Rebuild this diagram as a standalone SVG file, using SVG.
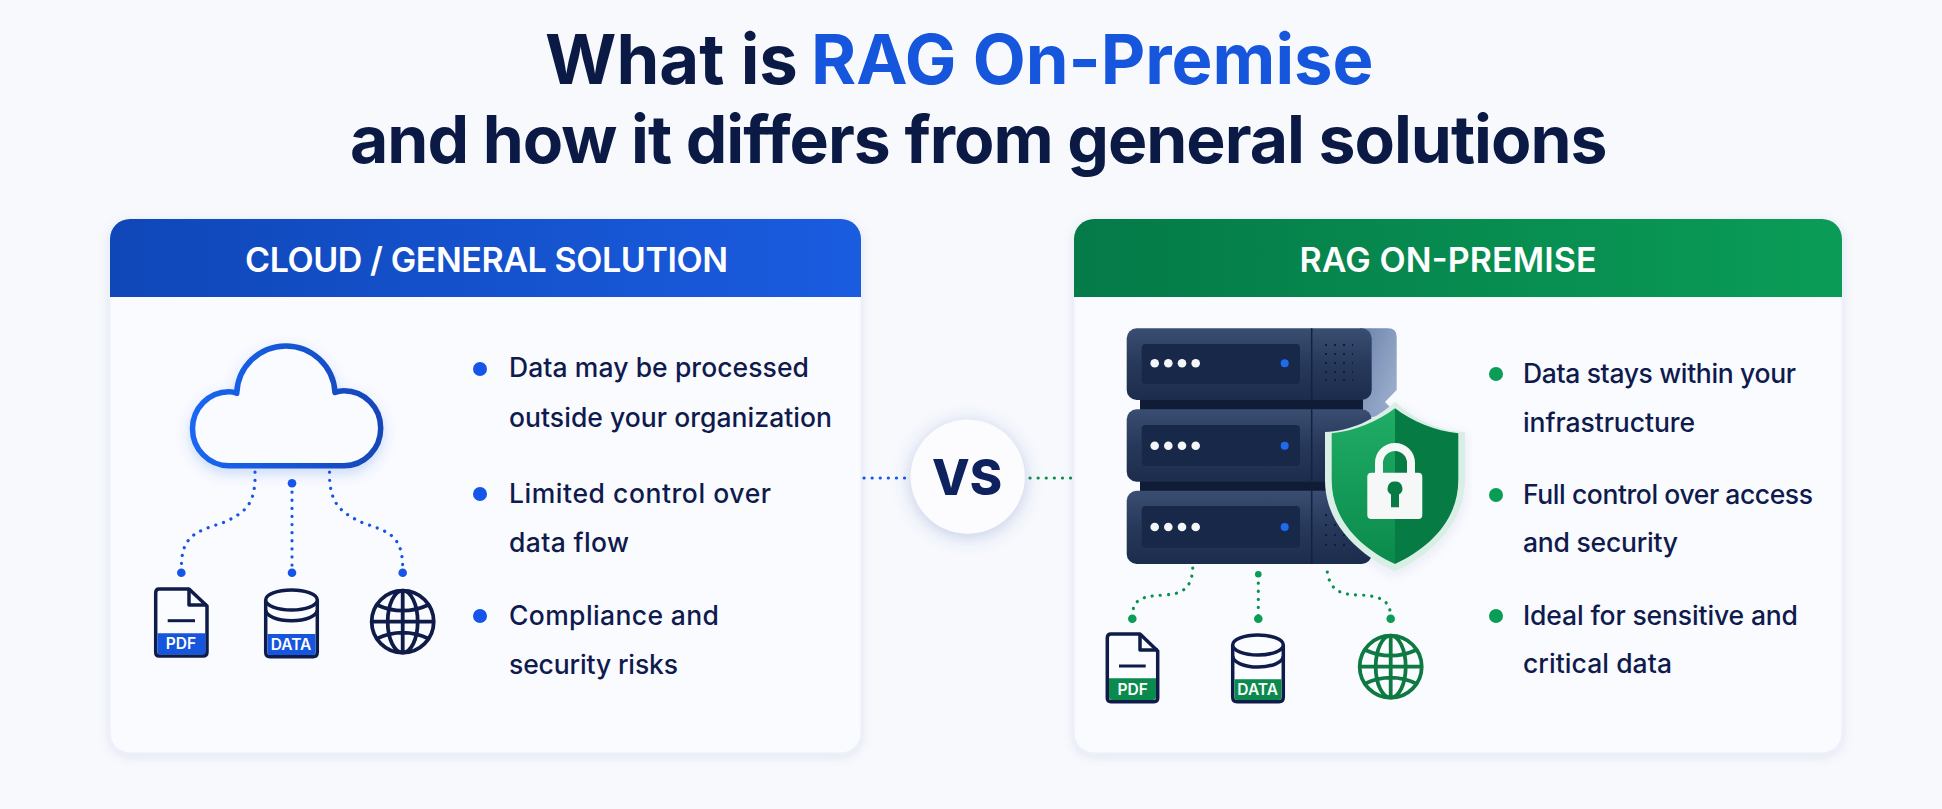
<svg xmlns="http://www.w3.org/2000/svg" width="1942" height="809" viewBox="0 0 1942 809">
<style>
text{font-family:"Inter","Liberation Sans",sans-serif}
.title{font-weight:700;fill:#0b1a45}
.hd{font-size:34px;font-weight:600;fill:#fff;text-anchor:middle}
.b{font-size:26.500px;font-weight:500;fill:#0f1a4d}
.card{fill:#fafbff;stroke:#e9eef8;stroke-width:1;filter:url(#sh)}
.blue{fill:#1556e8}.green{fill:#0a9d55}
.cb{fill:none;stroke:#1556e8;stroke-width:3.200;stroke-linecap:round;stroke-dasharray:.1 8}
.cg{fill:none;stroke:#0a8f4d;stroke-width:3.200;stroke-linecap:round;stroke-dasharray:.1 8}
.ol{fill:#fbfcff;stroke:#0f1c4a;stroke-width:3.500;stroke-linejoin:round}
.lb{font-size:15.500px;font-weight:600;fill:#fff;text-anchor:middle}
.gl{fill:none;stroke-width:3.800}
.unit{fill:url(#srv)}.scr{fill:#182848}.wd{fill:#f5f6f8}.led{fill:#1f6bf0}
</style>
<defs>
<filter id="sh" x="-5%" y="-5%" width="110%" height="112%"><feDropShadow dx="0" dy="3" stdDeviation="6" flood-color="#1c3a80" flood-opacity=".09"/></filter>
<filter id="cs" x="-20%" y="-20%" width="140%" height="150%"><feDropShadow dx="0" dy="5" stdDeviation="7" flood-color="#1550d0" flood-opacity=".2"/></filter>
<filter id="vs" x="-30%" y="-30%" width="160%" height="160%"><feDropShadow dx="0" dy="3" stdDeviation="9" flood-color="#4a62b0" flood-opacity=".3"/></filter>
<linearGradient id="gb" x1="0" x2="1"><stop offset="0" stop-color="#0f47b8"/><stop offset="1" stop-color="#1a5ce0"/></linearGradient>
<linearGradient id="gg" x1="0" x2="1"><stop offset="0" stop-color="#047a48"/><stop offset="1" stop-color="#0a9c57"/></linearGradient>
<linearGradient id="gc" x1="0" x2="1"><stop offset="0" stop-color="#1a66f2"/><stop offset="1" stop-color="#1246b8"/></linearGradient>
<linearGradient id="srv" x1="0" y1="0" x2="0" y2="1"><stop offset="0" stop-color="#3a4e72"/><stop offset=".5" stop-color="#27395a"/><stop offset="1" stop-color="#1c2c4c"/></linearGradient>
<linearGradient id="side" x1="0" x2="1" y1="0" y2="1"><stop offset="0" stop-color="#6c83ab"/><stop offset="1" stop-color="#a3b5d2"/></linearGradient>
<linearGradient id="sl" x1="0" y1="0" x2="0" y2="1"><stop offset="0" stop-color="#20ad66"/><stop offset="1" stop-color="#0a8a4c"/></linearGradient>
<g id="g"><circle r="31"/><ellipse rx="15" ry="31"/><path d="M0-31V31M-31 0H31M-26-17Q0-5 26-17M-26 17Q0 5 26 17"/></g>
</defs>
<rect width="1942" height="809" fill="#f7f9fd"/>
<g id="title"><text class="title" x="545" y="84" font-size="68.800">What is <tspan fill="#1556dc" dx="-3">RAG On-Premise</tspan></text>
<text class="title" x="350" y="163" font-size="66" letter-spacing="-1">and how it differs from general solutions</text></g>

<g id="card-cloud">
<rect class="card" x="110" y="219" width="751" height="534" rx="20"/>
<path d="M110 297V239A20 20 0 0 1 130 219H841A20 20 0 0 1 861 239V297Z" fill="url(#gb)"/>
<text class="hd" x="486.500" y="272" textLength="483">CLOUD / GENERAL SOLUTION</text>
<g class="blue"><circle cx="480" cy="369" r="7"/><circle cx="480" cy="494" r="7"/><circle cx="480" cy="616" r="7"/></g>
<text class="b" x="509" y="377" textLength="300">Data may be processed</text>
<text class="b" x="509" y="427" textLength="323">outside your organization</text>
<text class="b" x="509" y="503" textLength="262">Limited control over</text>
<text class="b" x="509" y="552" textLength="120">data flow</text>
<text class="b" x="509" y="625" textLength="210">Compliance and</text>
<text class="b" x="509" y="674" textLength="169">security risks</text>
</g>
<g id="cloud"><path d="M229 465.700H344A36.700 37.500 0 0 0 344 390.700Q339 390.700 335 392.500A49.200 49.200 0 0 0 236.700 393.300Q233 391.700 229 391.700A36.500 37 0 0 0 229 465.700Z" fill="#fafbff" stroke="url(#gc)" stroke-width="5.500" stroke-linejoin="round" filter="url(#cs)"/></g>
<g id="pdf-cloud"><path class="ol" d="M159 589H189L207 606V652Q207 656 203 656H159Q155.700 656 155.700 652V593Q155.700 589 159 589Z"/><path d="M189 589V605H207" fill="none" stroke="#0f1c4a" stroke-width="3.500" stroke-linejoin="round"/><path d="M167.700 620.700H195" stroke="#0f1c4a" stroke-width="3"/><path d="M157.500 633.300H205.500V652Q205.500 654.500 203 654.500H160Q157.500 654.500 157.500 652Z" fill="#1556dc"/><text class="lb" x="181" y="649">PDF</text></g>
<g id="data-cloud"><path class="ol" d="M265.700 600V652Q265.700 656.700 270 656.700H313Q317.300 656.700 317.300 652V600"/><ellipse class="ol" cx="291.500" cy="600" rx="25.800" ry="10"/><path d="M265.700 610A25.800 10.700 0 0 0 317.300 610" fill="none" stroke="#0f1c4a" stroke-width="3.500"/><path d="M267.500 634H315.500V652Q315.500 655 313 655H270Q267.500 655 267.500 652Z" fill="#1556dc"/><text class="lb" x="291" y="650">DATA</text></g>
<use id="globe-cloud" href="#g" x="402.700" y="621.700" class="gl" stroke="#0f1c4a"/>

<g id="card-rag">
<rect class="card" x="1074" y="219" width="768" height="534" rx="20"/>
<path d="M1074 297V239A20 20 0 0 1 1094 219H1822A20 20 0 0 1 1842 239V297Z" fill="url(#gg)"/>
<text class="hd" x="1448" y="272" textLength="297">RAG ON-PREMISE</text>
<g class="green"><circle cx="1496" cy="374" r="7"/><circle cx="1496" cy="495" r="7"/><circle cx="1496" cy="616" r="7"/></g>
<text class="b" x="1523" y="383" textLength="273">Data stays within your</text>
<text class="b" x="1523" y="432" textLength="172">infrastructure</text>
<text class="b" x="1523" y="504" textLength="290">Full control over access</text>
<text class="b" x="1523" y="552" textLength="155">and security</text>
<text class="b" x="1523" y="625" textLength="275">Ideal for sensitive and</text>
<text class="b" x="1523" y="673" textLength="149">critical data</text>
</g>
<g id="server">
<path d="M1360 328.300H1388Q1396.700 328.300 1396.700 337V390L1385 402L1395 412L1360 420Z" fill="url(#side)"/>
<rect x="1140" y="398" width="223" height="14" fill="#101b36"/><rect x="1140" y="480" width="223" height="13" fill="#101b36"/>
<rect class="unit" x="1126.700" y="328.300" width="245" height="71.700" rx="10"/>
<rect class="unit" x="1126.700" y="409.300" width="245" height="72.400" rx="10"/>
<rect class="unit" x="1126.700" y="490.700" width="245" height="73.300" rx="10"/>
<rect class="scr" x="1141.700" y="344" width="158.300" height="40" rx="4"/>
<rect class="scr" x="1141.700" y="425" width="158.300" height="41" rx="4"/>
<rect class="scr" x="1141.700" y="506" width="158.300" height="41.700" rx="4"/>
<path d="M1311.700 328.300V400M1311.700 409.300V481M1311.700 490.700V564" stroke="#142240" stroke-width="1.500"/>
<g class="wd"><circle cx="1154.700" cy="363.300" r="4.300"/><circle cx="1168.300" cy="363.300" r="4.300"/><circle cx="1182" cy="363.300" r="4.300"/><circle cx="1195.700" cy="363.300" r="4.300"/><circle cx="1154.700" cy="445.700" r="4.300"/><circle cx="1168.300" cy="445.700" r="4.300"/><circle cx="1182" cy="445.700" r="4.300"/><circle cx="1195.700" cy="445.700" r="4.300"/><circle cx="1154.700" cy="527" r="4.300"/><circle cx="1168.300" cy="527" r="4.300"/><circle cx="1182" cy="527" r="4.300"/><circle cx="1195.700" cy="527" r="4.300"/></g>
<g class="led"><circle cx="1284.700" cy="363.300" r="4"/><circle cx="1284.700" cy="445.700" r="4"/><circle cx="1284.700" cy="527" r="4"/></g>
<path d="M1325 345H1353M1325 354H1353M1325 363H1353M1325 372H1353M1325 380H1353M1325 515H1345M1325 525H1345M1325 535H1345M1325 545H1345" fill="none" stroke="#101d38" stroke-width="2" stroke-dasharray="2 7"/>
</g>
<g id="shield">
<path d="M1395 401.700C1375 420 1350 431 1325 432V480C1325 525 1360 555 1395 571.700C1430 555 1465 525 1465 480V432C1440 431 1415 420 1395 401.700Z" fill="#d9efe5" filter="url(#sh)"/>
<path d="M1395 408.300V564C1363 549 1331.700 522 1331.700 480V433.300C1355 431 1378 421 1395 408.300Z" fill="url(#sl)"/>
<path d="M1395 408.300V564C1427 549 1458.300 522 1458.300 480V433.300C1435 431 1412 421 1395 408.300Z" fill="#067c44"/>
<path d="M1379 474V463A16 16 0 0 1 1411 463V474" fill="none" stroke="#f5f8f6" stroke-width="8"/>
<rect x="1367.300" y="472.700" width="55" height="46.300" rx="4" fill="#f5f8f6"/>
<path d="M1395 481.500A7 7 0 0 1 1399 494.500V507.300H1391V494.500A7 7 0 0 1 1395 481.500Z" fill="#067c44"/>
</g>
<g id="pdf-rag"><path class="ol" d="M1111 634H1140L1157.700 651V698Q1157.700 701.700 1154 701.700H1111Q1107.300 701.700 1107.300 698V638Q1107.300 634 1111 634Z"/><path d="M1140 634V650H1157.700" fill="none" stroke="#0f1c4a" stroke-width="3.500" stroke-linejoin="round"/><path d="M1119 666H1145.700" stroke="#0f1c4a" stroke-width="3"/><path d="M1109 678.300H1156V697Q1156 700 1153 700H1112Q1109 700 1109 697Z" fill="#0a8a4c"/><text class="lb" x="1132.700" y="695">PDF</text></g>
<g id="data-rag"><path class="ol" d="M1232.700 645V697Q1232.700 701.700 1237 701.700H1279Q1283.300 701.700 1283.300 697V645"/><ellipse class="ol" cx="1258" cy="645" rx="25.300" ry="10"/><path d="M1232.700 656A25.300 11 0 0 0 1283.300 656" fill="none" stroke="#0f1c4a" stroke-width="3.500"/><path d="M1234.500 679.300H1281.500V697Q1281.500 700 1279 700H1237Q1234.500 700 1234.500 697Z" fill="#0a8a4c"/><text class="lb" x="1257.700" y="695">DATA</text></g>
<use id="globe-rag" href="#g" x="1390.700" y="666.700" class="gl" stroke="#0e7a42"/>

<g id="connectors">
<path class="cb" d="M255 472C256 505 245 512 225 522C195 532 181 535 181.300 570"/>
<path class="cb" d="M292 484V572"/>
<path class="cb" d="M329.500 472C329 505 342 513 363 523C390 532 403 536 402.700 570"/>
<path class="cb" d="M864 478H908"/>
<path class="cg" d="M1030 478H1073"/>
<path class="cg" d="M1192.700 568C1192 590 1180 594 1165 595C1140 596 1133 600 1132.300 616"/>
<path class="cg" d="M1258.300 575V616"/>
<path class="cg" d="M1327.300 572C1330 590 1340 595 1360 595C1380 596 1390 600 1390.700 616"/>
<g class="blue"><circle cx="181.300" cy="572.700" r="4.300"/><circle cx="292" cy="483.300" r="4.300"/><circle cx="292" cy="572.700" r="4.300"/><circle cx="402.700" cy="572.700" r="4.300"/></g>
<g class="green"><circle cx="1132.300" cy="618.700" r="4.300"/><circle cx="1258.300" cy="574.300" r="3.300"/><circle cx="1258.300" cy="618.700" r="4.300"/><circle cx="1390.700" cy="618.700" r="4.300"/></g>
</g>

<g id="vs"><circle cx="967.700" cy="476.700" r="57" fill="#fcfcff" filter="url(#vs)"/><text x="967" y="495" text-anchor="middle" font-size="49" font-weight="800" fill="#0f2260">VS</text></g>
</svg>
